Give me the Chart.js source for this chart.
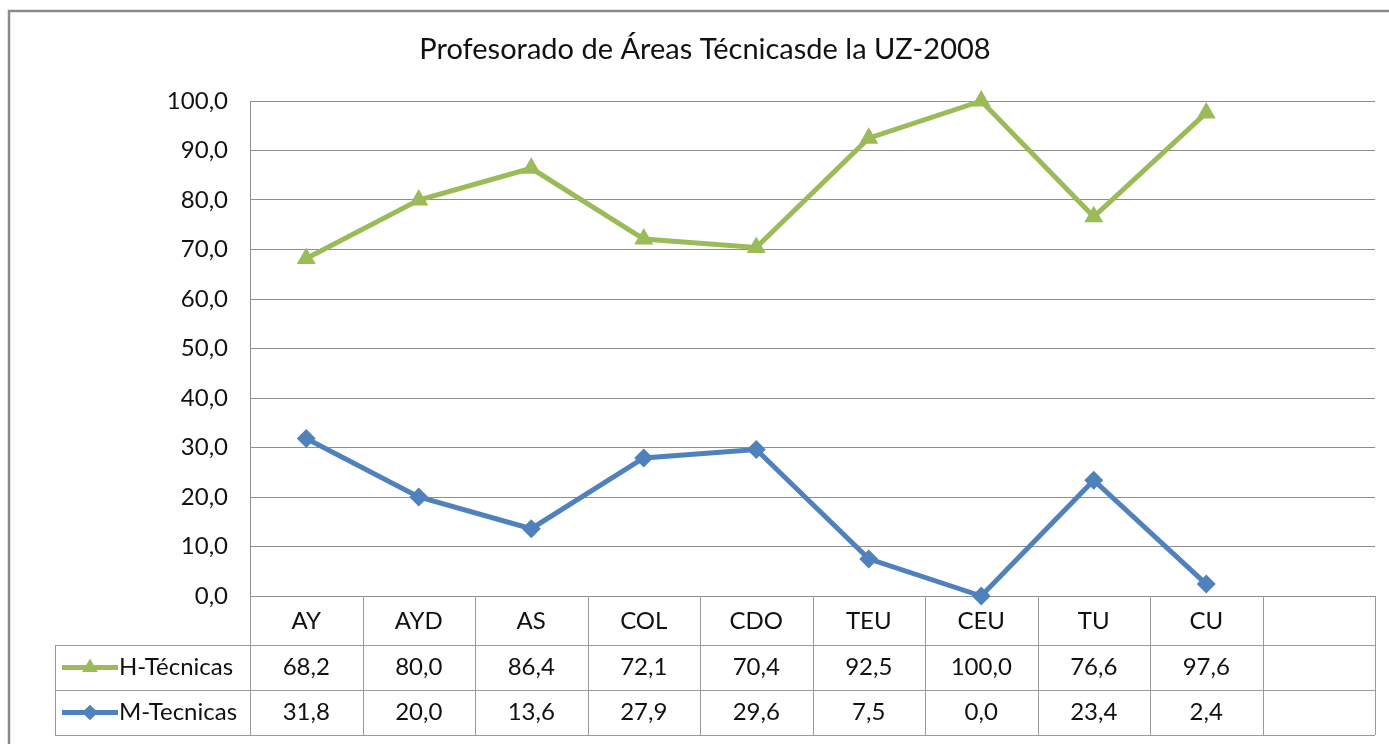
<!DOCTYPE html>
<html>
<head>
<meta charset="utf-8">
<title>Profesorado de Áreas Técnicas</title>
<script src="https://cdn.jsdelivr.net/npm/chart.js@4/dist/chart.umd.min.js"></script>
<style>
  html, body { margin: 0; padding: 0; background: #fff; }
  #wrap { width: 1389px; height: 744px; position: relative; }
</style>
</head>
<body>
<div id="wrap"><canvas id="chart" width="1389" height="744"></canvas></div>
<script>
// data
const chartTitle = "Profesorado de Áreas Técnicasde la UZ-2008";
const categories = ["AY", "AYD", "AS", "COL", "CDO", "TEU", "CEU", "TU", "CU", ""];
const hTecnicas = [68.2, 80.0, 86.4, 72.1, 70.4, 92.5, 100.0, 76.6, 97.6, null];
const mTecnicas = [31.8, 20.0, 13.6, 27.9, 29.6, 7.5, 0.0, 23.4, 2.4, null];
const yMin = 0, yMax = 100, yStep = 10;

const green = "#9bbb59";
const blue = "#4f81bd";
const gridColor = "#8e8e8e";
const tableColor = "#9a9a9a";
const font = "Lato, 'Open Sans', sans-serif";

function fmt(v) {
  if (v === null || v === undefined) return "";
  return v.toFixed(1).replace(".", ",");
}

// outer frame + title
const framePlugin = {
  id: "frame",
  beforeDraw(chart) {
    const ctx = chart.ctx;
    ctx.save();
    ctx.fillStyle = "#fff";
    ctx.fillRect(0, 0, chart.width, chart.height);
    ctx.strokeStyle = "#8a8a8a";
    ctx.lineWidth = 2.5;
    ctx.strokeRect(9, 11, chart.width + 20, chart.height + 20);
    ctx.fillStyle = "#111";
    ctx.font = "29px " + font;
    ctx.textAlign = "center";
    ctx.textBaseline = "middle";
    ctx.fillText(chartTitle, 705, 50);
    ctx.restore();
  }
};

// data table under the plot
const tablePlugin = {
  id: "dataTable",
  afterDraw(chart) {
    const ctx = chart.ctx;
    const xs = chart.scales.x;
    const area = chart.chartArea;
    const step = xs.getPixelForValue(1) - xs.getPixelForValue(0);
    const top = area.bottom;
    const rows = [top, top + 49, top + 94, top + 139];
    const tableLeft = 55;

    ctx.save();
    ctx.strokeStyle = tableColor;
    ctx.lineWidth = 1;
    // vertical lines
    for (let i = 0; i <= categories.length; i++) {
      const x = Math.round(area.left + i * step) + 0.5;
      ctx.beginPath();
      ctx.moveTo(x, rows[0]);
      ctx.lineTo(x, rows[3]);
      ctx.stroke();
    }
    ctx.beginPath();
    ctx.moveTo(tableLeft + 0.5, rows[1]);
    ctx.lineTo(tableLeft + 0.5, rows[3]);
    ctx.stroke();
    // horizontal lines
    for (let r = 1; r <= 3; r++) {
      ctx.beginPath();
      ctx.moveTo(tableLeft, rows[r] + 0.5);
      ctx.lineTo(area.right, rows[r] + 0.5);
      ctx.stroke();
    }

    ctx.fillStyle = "#111";
    ctx.font = "24px " + font;
    ctx.textAlign = "center";
    ctx.textBaseline = "middle";
    categories.forEach(function (c, i) {
      const x = xs.getPixelForValue(i);
      ctx.fillText(c, x, (rows[0] + rows[1]) / 2 + 1);
    });

    chart.data.datasets.forEach(function (ds, r) {
      const yMid = (rows[r + 1] + rows[r + 2]) / 2;
      ds.data.forEach(function (v, i) {
        ctx.fillText(fmt(v), xs.getPixelForValue(i), yMid);
      });
      // legend key
      ctx.strokeStyle = ds.borderColor;
      ctx.lineWidth = 5;
      ctx.beginPath();
      ctx.moveTo(62, yMid);
      ctx.lineTo(118, yMid);
      ctx.stroke();
      ctx.fillStyle = ds.borderColor;
      Chart.helpers.drawPoint(ctx, {
        pointStyle: ds.pointStyle,
        radius: ds.pointRadius * 0.8,
        rotation: 0,
        borderWidth: 0
      }, 90, yMid);
      ctx.fill();
      ctx.fillStyle = "#111";
      ctx.textAlign = "left";
      ctx.fillText(ds.label, 119, yMid);
      ctx.textAlign = "center";
    });
    ctx.restore();
  }
};

new Chart(document.getElementById("chart"), {
  type: "line",
  data: {
    labels: categories,
    datasets: [
      {
        label: "H-Técnicas",
        data: hTecnicas,
        borderColor: green,
        backgroundColor: green,
        borderWidth: 5,
        pointStyle: "triangle",
        pointRadius: 11,
        pointBorderWidth: 0,
        tension: 0,
        clip: false
      },
      {
        label: "M-Tecnicas",
        data: mTecnicas,
        borderColor: blue,
        backgroundColor: blue,
        borderWidth: 5,
        pointStyle: "rectRot",
        pointRadius: 9.5,
        pointBorderWidth: 0,
        tension: 0,
        clip: false
      }
    ]
  },
  options: {
    responsive: false,
    animation: false,
    layout: { padding: { top: 101, bottom: 148, right: 14, left: 0 } },
    plugins: {
      legend: { display: false },
      title: { display: false },
      tooltip: { enabled: false }
    },
    scales: {
      x: {
        type: "category",
        offset: true,
        display: false
      },
      y: {
        min: yMin,
        max: yMax,
        afterFit: function (scale) { scale.width = 250; },
        ticks: {
          stepSize: yStep,
          padding: 22,
          color: "#111",
          font: { size: 24, family: font },
          callback: function (v) { return fmt(v); }
        },
        grid: { color: gridColor, lineWidth: 1, drawTicks: false },
        border: { display: true, color: gridColor, width: 1 }
      }
    }
  },
  plugins: [framePlugin, tablePlugin]
});
</script>
</body>
</html>
